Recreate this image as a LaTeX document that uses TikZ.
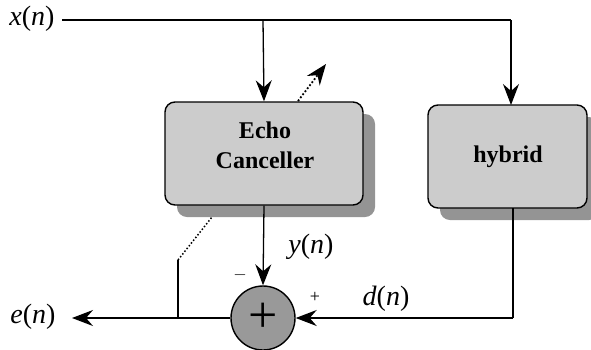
\documentclass[tikz,border=0pt]{standalone}
\usepackage{fontspec}
\setmainfont{Liberation Serif}
\usetikzlibrary{arrows.meta,shadows}
\begin{document}
\begin{tikzpicture}[x=1pt,y=-1pt,
  line width=1.3pt,
  arr/.style={-{Stealth[length=21pt,width=16pt,inset=7pt]}},
  blockbox/.style={draw, line width=1.4pt, rounded corners=10pt, fill=black!20,
    drop shadow={shadow xshift=12pt, shadow yshift=-12pt, fill=black!42, opacity=1}},
  boxtext/.style={font=\fontsize{24}{30}\selectfont\bfseries, align=center, inner sep=0pt},
  lbl/.style={font=\fontsize{28}{30}\selectfont, inner sep=0pt},
  sgn/.style={font=\fontsize{18}{20}\selectfont, inner sep=0pt}]
\useasboundingbox (0,0) rectangle (591,349);
% labels
\node[lbl] (xn) at (32,19) {\textit{x}(\textit{n})};
\node[lbl] (en) at (33,317) {\textit{e}(\textit{n})};
\node[lbl] (yn) at (311,247) {\textit{y}(\textit{n})};
\node[lbl] (dn) at (386,299) {\textit{d}(\textit{n})};
\node[sgn] (minus) at (240,275) {$-$};
\node[sgn] (plus) at (315,297) {+};
% blocks
\node[blockbox, minimum width=198pt, minimum height=103pt] (ec) at (264,153.5) {};
\node[boxtext] (ect) at (265,145) {Echo\\Canceller};
\node[blockbox, minimum width=159pt, minimum height=103pt] (hy) at (507.5,156.5) {};
\node[boxtext] (hyt) at (508,157) {hybrid};
\node[draw, circle, line width=1.4pt, fill=black!40, minimum size=64pt, inner sep=0pt,
  font=\fontsize{52}{52}\selectfont] (sum) at (263,318) {+};
% coordinates
\coordinate (xs) at (62,20);
\coordinate (t1) at (263,20);
\coordinate (t2) at (511,20);
\coordinate (ht) at (511,105);
\coordinate (hb) at (513,208);
\coordinate (hc) at (513,318);
\coordinate (eo) at (72,318);
\coordinate (j1) at (178,318);
\coordinate (j2) at (178,260);
\coordinate (j3) at (212,217);
\coordinate (d1) at (298,101);
\coordinate (d2) at (326,64);
% connectors
\draw (xs) -- (t2);
\draw[arr] (t1) -- (ec.north);
\draw[arr] (t2) -- (ht);
\draw[arr] (ec.south) -- (sum.north);
\draw (hb) -- (hc);
\draw[arr] (hc) -- (sum.east);
\draw[arr] (sum.west) -- (eo);
\draw (j1) -- (j2);
\draw[dotted, line width=1.5pt] (j2) -- (j3);
\draw[dotted, line width=1.8pt, -{Stealth[length=21pt,width=16pt,inset=7pt]}] (d1) -- (d2);
\end{tikzpicture}
\end{document}
